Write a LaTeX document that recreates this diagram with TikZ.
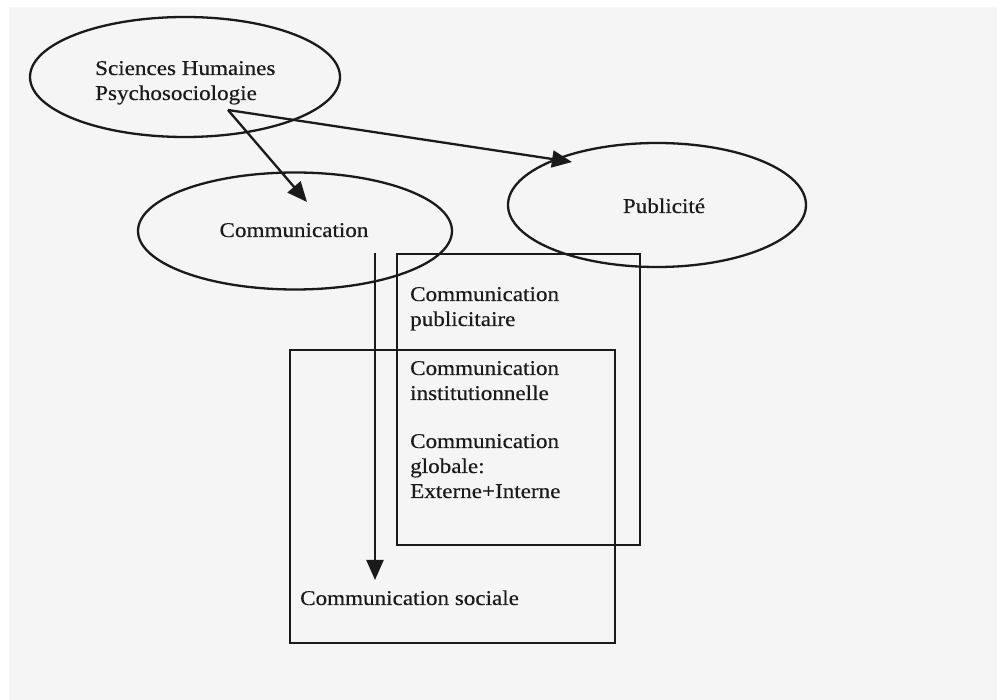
\documentclass[tikz,border=0pt]{standalone}
\usepackage{fontspec}
\setmainfont{Liberation Serif}[FakeStretch=1.1,FakeBold=0.4]
\usetikzlibrary{shapes.geometric,arrows.meta}
\definecolor{bg}{HTML}{F5F5F5}
\definecolor{ink}{HTML}{1A1A1A}
\begin{document}
\begin{tikzpicture}[x=1pt,y=-1pt,
  txt/.style={font=\fontsize{21}{25}\selectfont, text=ink, inner sep=0pt},
  oval/.style={ellipse, draw=ink, line width=2.3pt, inner sep=0pt},
  box/.style={draw=ink, line width=2.6pt, inner sep=0pt},
  arr/.style={draw=ink, line width=2.3pt, -{Triangle[length=20pt,width=17pt]}}]
\fill[white] (0,0) rectangle (997,700);
\fill[bg] (9,7) rectangle (997,700);
\useasboundingbox (0,0) rectangle (997,700);
% ellipses
\node[oval, minimum width=310pt, minimum height=120pt] (sh) at (185,77) {};
\node[oval, minimum width=314pt, minimum height=117pt] (comm) at (295,231) {};
\node[oval, minimum width=298pt, minimum height=124pt] (pub) at (657,205) {};
% ellipse texts
\node[txt, anchor=base west, align=left] (tsh) at (95,100) {Sciences Humaines\\Psychosociologie};
\node[txt, anchor=base] (tcomm) at (294,237) {Communication};
\node[txt, anchor=base] (tpubl) at (664,213) {Publicité};
% boxes
\node[box, minimum width=243pt, minimum height=291pt] (rpub) at (518.5,399.5) {};
\node[box, minimum width=325pt, minimum height=293pt] (rsoc) at (452.5,496.5) {};
% texts in boxes
\node[txt, anchor=base west, align=left] (tpub) at (410,326) {Communication\\publicitaire};
\node[txt, anchor=base west, align=left] (tinst) at (410,400) {Communication\\institutionnelle};
\node[txt, anchor=base west, align=left] (tglob) at (410,498) {Communication\\globale:\\Externe+Interne};
\node[txt, anchor=base west] (tsoc) at (300,605) {Communication sociale};
% arrows
\coordinate (s0) at (228,110);
\coordinate (s1) at (307,202);
\coordinate (s2) at (572,162);
\coordinate (c0) at (375,253);
\coordinate (c1) at (375,580);
\draw[arr] (s0) -- (s1);
\draw[arr] (s0) -- (s2);
\draw[arr] (c0) -- (c1);
\end{tikzpicture}
\end{document}
